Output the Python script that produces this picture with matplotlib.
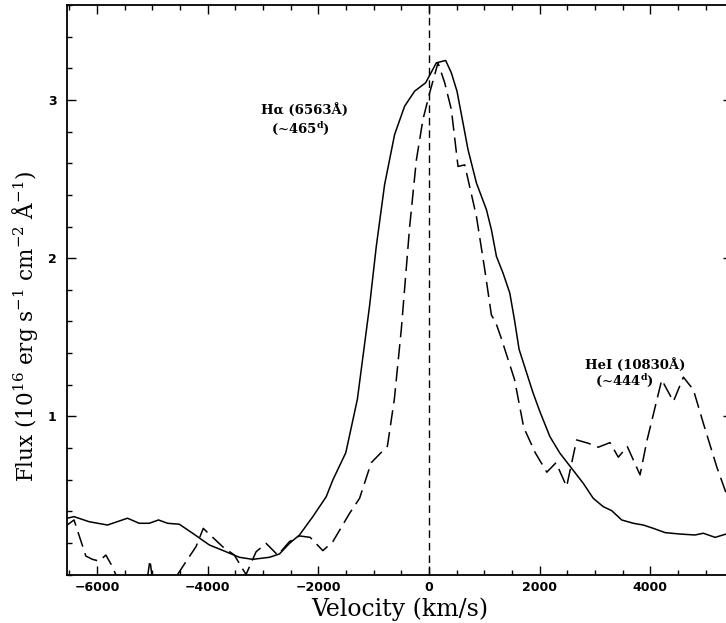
"""
Velocity profiles of H-alpha and HeI lines, redrawn with matplotlib.
"""

import matplotlib.pyplot as plt
from matplotlib.ticker import MultipleLocator

plt.rcParams["mathtext.default"] = "regular"

# H-alpha (6563A) profile, solid line
ha_velocity = [-6550, -6414, -6142, -5810, -5448, -5236, -5055, -4887, -4724, -4512,
               -4271, -3969, -3667, -3426, -3185, -2883, -2702, -2521, -2340, -2099,
               -1857, -1737, -1503, -1294, -1073, -952, -802, -621, -440, -259,
               -60, 133, 301, 404, 506, 603, 705, 857, 1038, 1128,
               1219, 1338, 1460, 1545, 1628, 1879, 2004, 2185, 2366, 2577,
               2787, 2968, 3149, 3301, 3482, 3692, 3873, 4054, 4266, 4534,
               4806, 4957, 5171, 5370, 5480]
ha_flux = [0.355, 0.366, 0.334, 0.313, 0.356, 0.324, 0.324, 0.345, 0.324, 0.318,
           0.261, 0.187, 0.144, 0.109, 0.096, 0.109, 0.130, 0.197, 0.250, 0.366,
           0.492, 0.598, 0.770, 1.108, 1.700, 2.075, 2.465, 2.782, 2.961, 3.056,
           3.109, 3.235, 3.250, 3.172, 3.056, 2.877, 2.687, 2.476, 2.307, 2.180,
           2.011, 1.906, 1.780, 1.610, 1.424, 1.150, 1.030, 0.872, 0.767, 0.672,
           0.577, 0.482, 0.429, 0.404, 0.345, 0.324, 0.313, 0.292, 0.265, 0.256,
           0.250, 0.261, 0.235, 0.256, 0.260]

# HeI (10830A) profile, long-dashed line
hei_velocity = [-6550, -6414, -6201, -6081, -5960, -5839, -5719, -5600, -5100, -5042,
                -4990, -4543, -4392, -4210, -4078, -4000, -3728, -3517, -3306, -3124,
                -2943, -2733, -2521, -2340, -2147, -1918, -1737, -1435, -1254, -1044,
                -751, -626, -500, -349, -228, -109, 12, 163, 284, 404,
                525, 646, 857, 1007, 1128, 1200, 1300, 1545, 1712, 1920,
                2129, 2296, 2487, 2668, 2878, 3059, 3271, 3421, 3584, 3814,
                3935, 4206, 4417, 4597, 4778, 4957, 5199, 5370, 5480]
hei_flux = [0.310, 0.345, 0.117, 0.096, 0.085, 0.123, 0.049, -0.05, -0.05, 0.092,
            -0.05, 0.000, 0.081, 0.176, 0.292, 0.265, 0.176, 0.123, 0.000, 0.144,
            0.197, 0.123, 0.208, 0.244, 0.235, 0.151, 0.208, 0.387, 0.482, 0.707,
            0.812, 1.108, 1.550, 2.200, 2.620, 2.877, 3.045, 3.235, 3.109, 2.940,
            2.580, 2.590, 2.265, 1.930, 1.640, 1.600, 1.500, 1.234, 0.930, 0.770,
            0.647, 0.707, 0.556, 0.851, 0.830, 0.805, 0.834, 0.742, 0.809, 0.630,
            0.841, 1.231, 1.094, 1.248, 1.168, 0.957, 0.682, 0.514, 0.420]

fig = plt.figure(figsize=(7.26, 6.23), dpi=100)
ax = fig.add_axes([0.0916, 0.0778, 0.917, 0.914])

ax.plot(ha_velocity, ha_flux, color="black", lw=1.1)
ax.plot(hei_velocity, hei_flux, color="black", lw=1.1, dashes=(10, 4.5))
ax.axvline(0, color="black", lw=1.0, dashes=(5.5, 3.5))

ax.set_xlim(-6550, 5480)
ax.set_ylim(0, 3.6)

ax.xaxis.set_major_locator(MultipleLocator(2000))
ax.xaxis.set_minor_locator(MultipleLocator(500))
ax.set_yticks([1, 2, 3])
ax.yaxis.set_minor_locator(MultipleLocator(0.2))
ax.tick_params(which="both", direction="in", top=True, right=True, width=1.0)
ax.tick_params(which="major", length=6.5)
ax.tick_params(which="minor", length=3.5)
ax.tick_params(axis="x", labelsize=9, pad=4.5)
ax.tick_params(axis="y", labelsize=9, pad=7)
for label in ax.get_xticklabels() + ax.get_yticklabels():
    label.set_fontweight("bold")
for spine in ax.spines.values():
    spine.set_linewidth(1.3)

ax.set_xlabel("Velocity (km/s)", family="DejaVu Serif", fontsize=17, labelpad=3)
ax.set_ylabel(r"Flux (10$^{16}$ erg s$^{-1}$ cm$^{-2}$ Å$^{-1}$)",
              family="DejaVu Serif", fontsize=15.5)
ax.yaxis.set_label_coords(-0.040, 0.435)

ax.text(-2250, 2.935, "Hα (6563Å)", family="DejaVu Serif", fontweight="bold",
        fontsize=9.5, ha="center", va="center")
ax.text(-2320, 2.82, r"(~465$^{d}$)", family="DejaVu Serif", fontweight="bold",
        fontsize=9.5, ha="center", va="center")
ax.text(3725, 1.325, "HeI (10830Å)", family="DejaVu Serif", fontweight="bold",
        fontsize=9.5, ha="center", va="center")
ax.text(3535, 1.225, r"(~444$^{d}$)", family="DejaVu Serif", fontweight="bold",
        fontsize=9.5, ha="center", va="center")

plt.savefig("out.png", dpi=100)
plt.close()
